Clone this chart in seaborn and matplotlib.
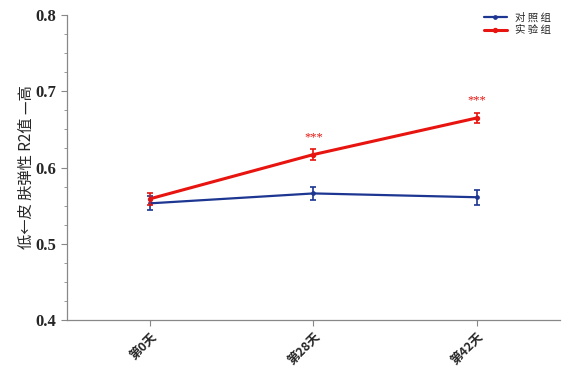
import matplotlib
matplotlib.use("Agg")
import matplotlib.pyplot as plt
import seaborn as sns
import pandas as pd
import numpy as np
from matplotlib.ticker import MultipleLocator

categories = ["第0天", "第28天", "第42天"]
groups = ["对照组", "实验组"]
legend_labels = ["对 照 组", "实 验 组"]
control_mean = [0.553, 0.566, 0.561]
control_err = [0.009, 0.009, 0.010]
treat_mean = [0.559, 0.617, 0.665]
treat_err = [0.008, 0.007, 0.007]
sig_marks = ["", "***", "***"]
colors = {"对照组": "#1c3691", "实验组": "#e8140f"}
widths = {"对照组": 1.6, "实验组": 2.2}

df = pd.DataFrame({
    "time": categories * 2,
    "group": [groups[0]] * 3 + [groups[1]] * 3,
    "value": control_mean + treat_mean,
    "err": control_err + treat_err,
})

sns.set_style("white")
plt.rcParams["font.family"] = ["Liberation Serif", "Noto Sans CJK SC"]

fig = plt.figure(figsize=(5.71, 3.76), dpi=100)
ax = fig.add_axes([0.117, 0.149, 0.864, 0.811])

for g in groups:
    sub = df[df.group == g]
    sns.pointplot(data=sub, x="time", y="value", order=categories,
                  color=colors[g], errorbar=None, markers="o",
                  markersize=2.2, linewidth=widths[g], ax=ax, label=g)
for g in groups:
    sub = df[df.group == g].set_index("time").loc[categories]
    ax.errorbar(np.arange(len(categories)), sub["value"], yerr=sub["err"],
                fmt="none", ecolor=colors[g], elinewidth=1.2, capsize=2.5,
                capthick=1.2, zorder=5)

tsub = df[df.group == groups[1]].set_index("time").loc[categories]
for i, (m, s) in enumerate(zip(sig_marks, categories)):
    if m:
        ax.text(i, tsub.loc[s, "value"] + tsub.loc[s, "err"] + 0.008, m,
                color=colors[groups[1]], ha="center", va="bottom", fontsize=9)

ax.set_ylim(0.4, 0.8)
ax.set_xlim(-0.51, 2.51)
ax.yaxis.set_minor_locator(MultipleLocator(0.025))
ax.set_yticks([0.4, 0.5, 0.6, 0.7, 0.8])
ax.set_yticklabels(["0.4", "0.5", "0.6", "0.7", "0.8"], fontsize=12, fontweight="bold")
ax.set_xticks(range(len(categories)))
ax.set_xticklabels(categories, rotation=45, ha="right", rotation_mode="anchor",
                   fontsize=9, fontweight="bold",
                   family=["Noto Sans CJK SC"])
ax.tick_params(axis="both", which="major", direction="out", length=4, width=0.8,
               color="#888888", left=True, bottom=True)
ax.tick_params(axis="y", which="minor", direction="out", length=2.5, width=0.6,
               color="#888888", left=True)
for sp in ["top", "right"]:
    ax.spines[sp].set_visible(False)
for sp in ["left", "bottom"]:
    ax.spines[sp].set_color("#888888")
    ax.spines[sp].set_linewidth(0.9)

ax.set_xlabel("")
ax.set_ylabel("低←皮 肤弹性 R2值 —高", fontsize=11,
              family=["Noto Sans CJK SC"], labelpad=0)
ax.yaxis.set_label_coords(-0.065, 0.5)

handles, labels = ax.get_legend_handles_labels()
leg = ax.legend(handles[:2], legend_labels, loc="upper right",
                bbox_to_anchor=(1.0, 1.04), frameon=False,
                prop={"family": "Noto Sans CJK SC", "size": 7.5},
                handlelength=2.2, labelspacing=0.25)

fig.savefig("out.png", dpi=100)
